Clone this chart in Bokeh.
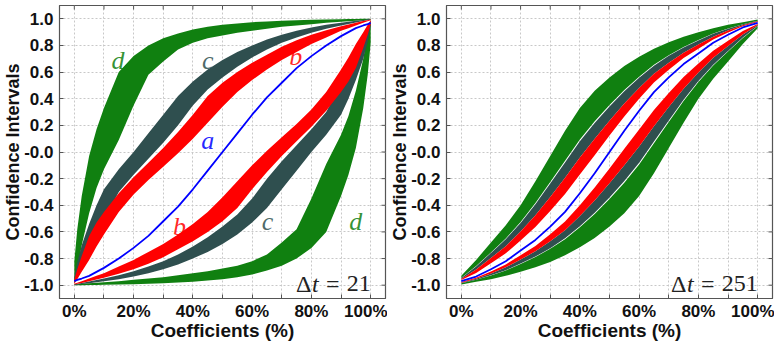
import math

from bokeh.plotting import figure
from bokeh.layouts import row
from bokeh.models import ColumnDataSource, FixedTicker, Label
from bokeh.embed import file_html
from bokeh.resources import INLINE

# ---------------- axis ticks ----------------
x_ticks = [0, 20, 40, 60, 80, 100]
x_tick_labels = ["0%", "20%", "40%", "60%", "80%", "100%"]
x_grid = [0, 10, 20, 30, 40, 50, 60, 70, 80, 90, 100]
y_ticks = [-1.0, -0.8, -0.6, -0.4, -0.2, 0.0, 0.2, 0.4, 0.6, 0.8, 1.0]
y_tick_labels = ["-1.0", "-0.8", "-0.6", "-0.4", "-0.2", "-0.0", "0.2", "0.4", "0.6", "0.8", "1.0"]

# ---------------- window 21: confidence bands ----------------
coef_21 = [0, 1, 2.5, 5, 7.5, 10, 15, 20, 25, 30, 35, 40, 45, 50, 55, 60, 65,
           70, 75, 80, 85, 90, 92.5, 95, 97.5, 99, 100]

a_21 = [-0.97, -0.96, -0.95, -0.93, -0.90, -0.87, -0.80, -0.72, -0.63, -0.52, -0.41,
        -0.28, -0.14, 0.0, 0.14, 0.28, 0.41, 0.52, 0.63, 0.72, 0.80, 0.87, 0.90,
        0.93, 0.95, 0.96, 0.97]

b_up_hi_21 = [-0.96, -0.88, -0.78, -0.63, -0.53, -0.45, -0.31, -0.19, -0.08, 0.03, 0.15,
              0.28, 0.42, 0.52, 0.60, 0.67, 0.73, 0.79, 0.84, 0.88, 0.915, 0.945, 0.958,
              0.97, 0.983, 0.99, 0.995]
b_up_lo_21 = [-0.99, -0.955, -0.90, -0.81, -0.71, -0.62, -0.45, -0.32, -0.21, -0.11, -0.01,
              0.10, 0.22, 0.34, 0.45, 0.54, 0.62, 0.69, 0.75, 0.81, 0.86, 0.91, 0.93,
              0.95, 0.97, 0.982, 0.99]
b_lo_hi_21 = [-0.99, -0.982, -0.97, -0.95, -0.93, -0.91, -0.86, -0.81, -0.75, -0.69, -0.62,
              -0.54, -0.45, -0.34, -0.22, -0.10, 0.01, 0.11, 0.21, 0.32, 0.45, 0.62, 0.71,
              0.81, 0.90, 0.955, 0.99]
b_lo_lo_21 = [-0.995, -0.99, -0.983, -0.97, -0.958, -0.945, -0.915, -0.88, -0.84, -0.79,
              -0.73, -0.67, -0.60, -0.52, -0.42, -0.28, -0.15, -0.03, 0.08, 0.19, 0.31,
              0.45, 0.53, 0.63, 0.78, 0.88, 0.96]

c_up_hi_21 = [-0.94, -0.83, -0.70, -0.54, -0.40, -0.28, -0.13, 0.0, 0.14, 0.28, 0.42,
              0.53, 0.62, 0.69, 0.75, 0.80, 0.845, 0.88, 0.91, 0.935, 0.955, 0.97, 0.978,
              0.985, 0.992, 0.996, 0.998]
c_up_lo_21 = [-0.99, -0.93, -0.83, -0.73, -0.62, -0.51, -0.30, -0.17, -0.05, 0.07, 0.20,
              0.35, 0.47, 0.56, 0.64, 0.71, 0.77, 0.82, 0.86, 0.895, 0.925, 0.95, 0.962,
              0.973, 0.984, 0.99, 0.993]
c_lo_hi_21 = [-0.993, -0.99, -0.984, -0.973, -0.962, -0.95, -0.925, -0.895, -0.86, -0.82,
              -0.77, -0.71, -0.64, -0.56, -0.47, -0.35, -0.20, -0.07, 0.05, 0.17, 0.30,
              0.51, 0.62, 0.73, 0.83, 0.93, 0.99]
c_lo_lo_21 = [-0.998, -0.996, -0.992, -0.985, -0.978, -0.97, -0.955, -0.935, -0.91, -0.88,
              -0.845, -0.80, -0.75, -0.69, -0.62, -0.53, -0.42, -0.28, -0.14, 0.0, 0.13,
              0.28, 0.40, 0.54, 0.70, 0.83, 0.94]

d_up_hi_21 = [-0.82, -0.58, -0.33, -0.03, 0.17, 0.33, 0.60, 0.72, 0.80, 0.855, 0.89,
              0.92, 0.94, 0.955, 0.965, 0.975, 0.98, 0.985, 0.99, 0.993, 0.995, 0.997,
              0.998, 0.999, 1.0, 1.0, 1.0]
d_up_lo_21 = [-0.99, -0.90, -0.70, -0.46, -0.27, -0.13, 0.09, 0.35, 0.58, 0.68, 0.77,
              0.82, 0.855, 0.875, 0.895, 0.91, 0.925, 0.94, 0.95, 0.96, 0.97, 0.978,
              0.982, 0.986, 0.99, 0.993, 0.995]
d_lo_hi_21 = [-0.995, -0.993, -0.99, -0.986, -0.982, -0.978, -0.97, -0.96, -0.95, -0.94,
              -0.925, -0.91, -0.895, -0.875, -0.855, -0.82, -0.77, -0.68, -0.58, -0.35,
              -0.09, 0.13, 0.27, 0.46, 0.70, 0.90, 0.99]
d_lo_lo_21 = [-1.0, -1.0, -1.0, -0.999, -0.998, -0.997, -0.995, -0.993, -0.99, -0.985,
              -0.98, -0.975, -0.965, -0.955, -0.94, -0.92, -0.89, -0.855, -0.80, -0.72,
              -0.60, -0.33, -0.17, 0.03, 0.33, 0.58, 0.82]

# ---------------- window 251: confidence bands ----------------
coef_251 = [0, 5, 10, 15, 20, 25, 30, 35, 40, 45, 50, 55, 60, 65, 70, 75, 80, 85, 90, 95, 100]

a_251 = [-0.97, -0.935, -0.88, -0.82, -0.74, -0.66, -0.56, -0.45, -0.31, -0.16, 0.0,
         0.16, 0.31, 0.45, 0.56, 0.66, 0.74, 0.82, 0.88, 0.935, 0.97]

b_up_lo_251 = [-0.961, -0.908, -0.836, -0.761, -0.665, -0.563, -0.443, -0.316, -0.169,
               -0.024, 0.123, 0.267, 0.399, 0.522, 0.618, 0.705, 0.775, 0.844, 0.897,
               0.944, 0.976]
b_up_hi_251 = [-0.953, -0.883, -0.796, -0.707, -0.597, -0.475, -0.337, -0.194, -0.041,
               0.100, 0.235, 0.364, 0.480, 0.587, 0.671, 0.746, 0.807, 0.866, 0.912,
               0.952, 0.981]
c_up_hi_251 = [-0.946, -0.859, -0.758, -0.655, -0.533, -0.392, -0.237, -0.078, 0.080,
               0.218, 0.342, 0.456, 0.557, 0.648, 0.722, 0.785, 0.838, 0.887, 0.926,
               0.959, 0.985]
d_up_lo_251 = [-0.945, -0.856, -0.754, -0.650, -0.526, -0.383, -0.226, -0.066, 0.093,
               0.231, 0.353, 0.466, 0.565, 0.655, 0.727, 0.789, 0.841, 0.889, 0.927,
               0.960, 0.986]
d_up_hi_251 = [-0.93, -0.81, -0.68, -0.55, -0.40, -0.22, -0.03, 0.16, 0.33, 0.46, 0.56,
               0.645, 0.715, 0.775, 0.825, 0.865, 0.90, 0.93, 0.955, 0.975, 0.995]

b_lo_hi_251 = [-0.976, -0.944, -0.897, -0.844, -0.775, -0.705, -0.618, -0.522, -0.399,
               -0.267, -0.123, 0.024, 0.169, 0.316, 0.443, 0.563, 0.665, 0.761, 0.836,
               0.908, 0.961]
b_lo_lo_251 = [-0.981, -0.952, -0.912, -0.866, -0.807, -0.746, -0.671, -0.587, -0.480,
               -0.364, -0.235, -0.100, 0.041, 0.194, 0.337, 0.475, 0.597, 0.707, 0.796,
               0.883, 0.953]
c_lo_lo_251 = [-0.985, -0.959, -0.926, -0.887, -0.838, -0.785, -0.722, -0.648, -0.557,
               -0.456, -0.342, -0.218, -0.080, 0.078, 0.237, 0.392, 0.533, 0.655, 0.758,
               0.859, 0.946]
d_lo_hi_251 = [-0.986, -0.960, -0.927, -0.889, -0.841, -0.789, -0.727, -0.655, -0.565,
               -0.466, -0.353, -0.231, -0.093, 0.066, 0.226, 0.383, 0.526, 0.650, 0.754,
               0.856, 0.945]
d_lo_lo_251 = [-0.995, -0.975, -0.955, -0.93, -0.90, -0.865, -0.825, -0.775, -0.715,
               -0.645, -0.56, -0.46, -0.33, -0.16, 0.03, 0.22, 0.40, 0.55, 0.68, 0.81, 0.93]

GREEN = "#108010"
SLATE = "#2f4f4f"
RED = "#ff0000"
BLUE = "#0000ff"
FRAME = "#555555"

SANS = "Liberation Sans"
SERIF = "Liberation Serif"

X_RANGE = (-5, 105)
Y_RANGE = (-1.1, 1.1)


def style_axis(ax, label_size):
    ax.axis_line_color = FRAME
    ax.major_tick_in = 4
    ax.major_tick_out = 0
    ax.minor_tick_in = 4
    ax.minor_tick_out = 0
    ax.major_tick_line_color = FRAME
    ax.minor_tick_line_color = FRAME
    ax.major_label_text_font = SANS
    ax.major_label_text_font_style = "bold"
    ax.major_label_text_font_size = "17px"
    ax.major_label_text_color = "#111111"
    ax.axis_label_text_font = SANS
    ax.axis_label_text_font_style = "bold"
    ax.axis_label_text_font_size = label_size
    ax.axis_label_text_color = "#111111"


def make_panel(xs, bands, a_curve, dt_value, letters):
    p = figure(width=387, height=343, x_range=X_RANGE, y_range=Y_RANGE,
               output_backend="svg", toolbar_location=None,
               min_border_left=58, min_border_right=2, min_border_top=5,
               min_border_bottom=45, background_fill_color="white",
               border_fill_color="white")
    p.outline_line_color = FRAME
    p.outline_line_width = 1.2

    cols = dict(x=xs, a=a_curve)
    for key, (lo, hi, _) in bands.items():
        cols[key + "_lo"] = lo
        cols[key + "_hi"] = hi
    src = ColumnDataSource(cols)
    for key, (_, _, color) in bands.items():
        p.varea(x="x", y1=key + "_lo", y2=key + "_hi", source=src, fill_color=color)
    p.line(x="x", y="a", source=src, line_color=BLUE, line_width=1.8)

    # axes
    xa = p.xaxis[0]
    xa.ticker = FixedTicker(ticks=x_ticks, minor_ticks=[t for t in x_grid if t not in x_ticks])
    xa.major_label_overrides = {t: s for t, s in zip(x_ticks, x_tick_labels)}
    xa.axis_label = "Coefficients (%)"
    ya = p.yaxis[0]
    ya.ticker = FixedTicker(ticks=y_ticks)
    ya.major_label_overrides = {t: s for t, s in zip(y_ticks, y_tick_labels)}
    ya.axis_label = "Confidence Intervals"
    style_axis(xa, "19px")
    style_axis(ya, "18px")
    xa.major_label_standoff = 3
    xa.axis_label_standoff = -4
    ya.major_label_standoff = 6
    ya.axis_label_standoff = -2

    # short inward tick marks along the top and right edges of the frame
    p.scatter(x=x_grid, y=[Y_RANGE[1]] * len(x_grid), marker="dash", angle=math.pi / 2,
              size=8, line_color=FRAME, line_width=1)
    p.scatter(x=[X_RANGE[1]] * len(y_ticks), y=y_ticks, marker="dash",
              size=8, line_color=FRAME, line_width=1)

    p.xgrid.ticker = FixedTicker(ticks=x_grid)
    p.ygrid.ticker = FixedTicker(ticks=y_ticks)
    for g in (p.xgrid[0], p.ygrid[0]):
        g.grid_line_color = "#c8c8c8"
        g.grid_line_dash = "2 2"
        g.grid_line_width = 1

    # curve letters
    for txt, lx, ly, col in letters:
        p.add_layout(Label(x=lx, y=ly, text=txt, text_color=col, text_alpha=0.85,
                           text_font=SERIF, text_font_style="italic", text_font_size="26px",
                           text_align="center", text_baseline="middle"))

    # window length annotation "Δt = N", with an italic t
    fs = 24
    num_w = 0.5 * fs * len(dt_value)
    eq_right = -(num_w + 0.3 * fs)
    t_right = eq_right - (0.564 * fs + 0.3 * fs)
    d_right = t_right - 0.3 * fs
    common = dict(x=100, y=-0.99, text_font=SERIF, text_font_size=f"{fs}px",
                  text_color="#222222", text_align="right", text_baseline="alphabetic")
    p.add_layout(Label(text=dt_value, **common))
    p.add_layout(Label(text="=", x_offset=eq_right, **common))
    p.add_layout(Label(text="t", x_offset=t_right, text_font_style="italic", **common))
    p.add_layout(Label(text="Δ", x_offset=d_right, **common))
    return p


bands_21 = {
    "d_up": (d_up_lo_21, d_up_hi_21, GREEN),
    "d_lo": (d_lo_lo_21, d_lo_hi_21, GREEN),
    "c_up": (c_up_lo_21, c_up_hi_21, SLATE),
    "c_lo": (c_lo_lo_21, c_lo_hi_21, SLATE),
    "b_up": (b_up_lo_21, b_up_hi_21, RED),
    "b_lo": (b_lo_lo_21, b_lo_hi_21, RED),
}
letters_21 = [
    ("d", 14.7, 0.69, GREEN), ("c", 45, 0.69, SLATE), ("b", 74.7, 0.72, RED),
    ("a", 45, 0.09, BLUE), ("b", 35.5, -0.56, RED), ("c", 65.2, -0.52, SLATE),
    ("d", 95, -0.52, GREEN),
]

bands_251 = {
    "d_up": (d_up_lo_251, d_up_hi_251, GREEN),
    "d_lo": (d_lo_lo_251, d_lo_hi_251, GREEN),
    "c_up": (b_up_hi_251, c_up_hi_251, SLATE),
    "c_lo": (c_lo_lo_251, b_lo_lo_251, SLATE),
    "b_up": (b_up_lo_251, b_up_hi_251, RED),
    "b_lo": (b_lo_lo_251, b_lo_hi_251, RED),
}

left = make_panel(coef_21, bands_21, a_21, "21", letters_21)
right = make_panel(coef_251, bands_251, a_251, "251", [])

layout = row(left, right)
open("out.html", "w").write(file_html(layout, INLINE))
